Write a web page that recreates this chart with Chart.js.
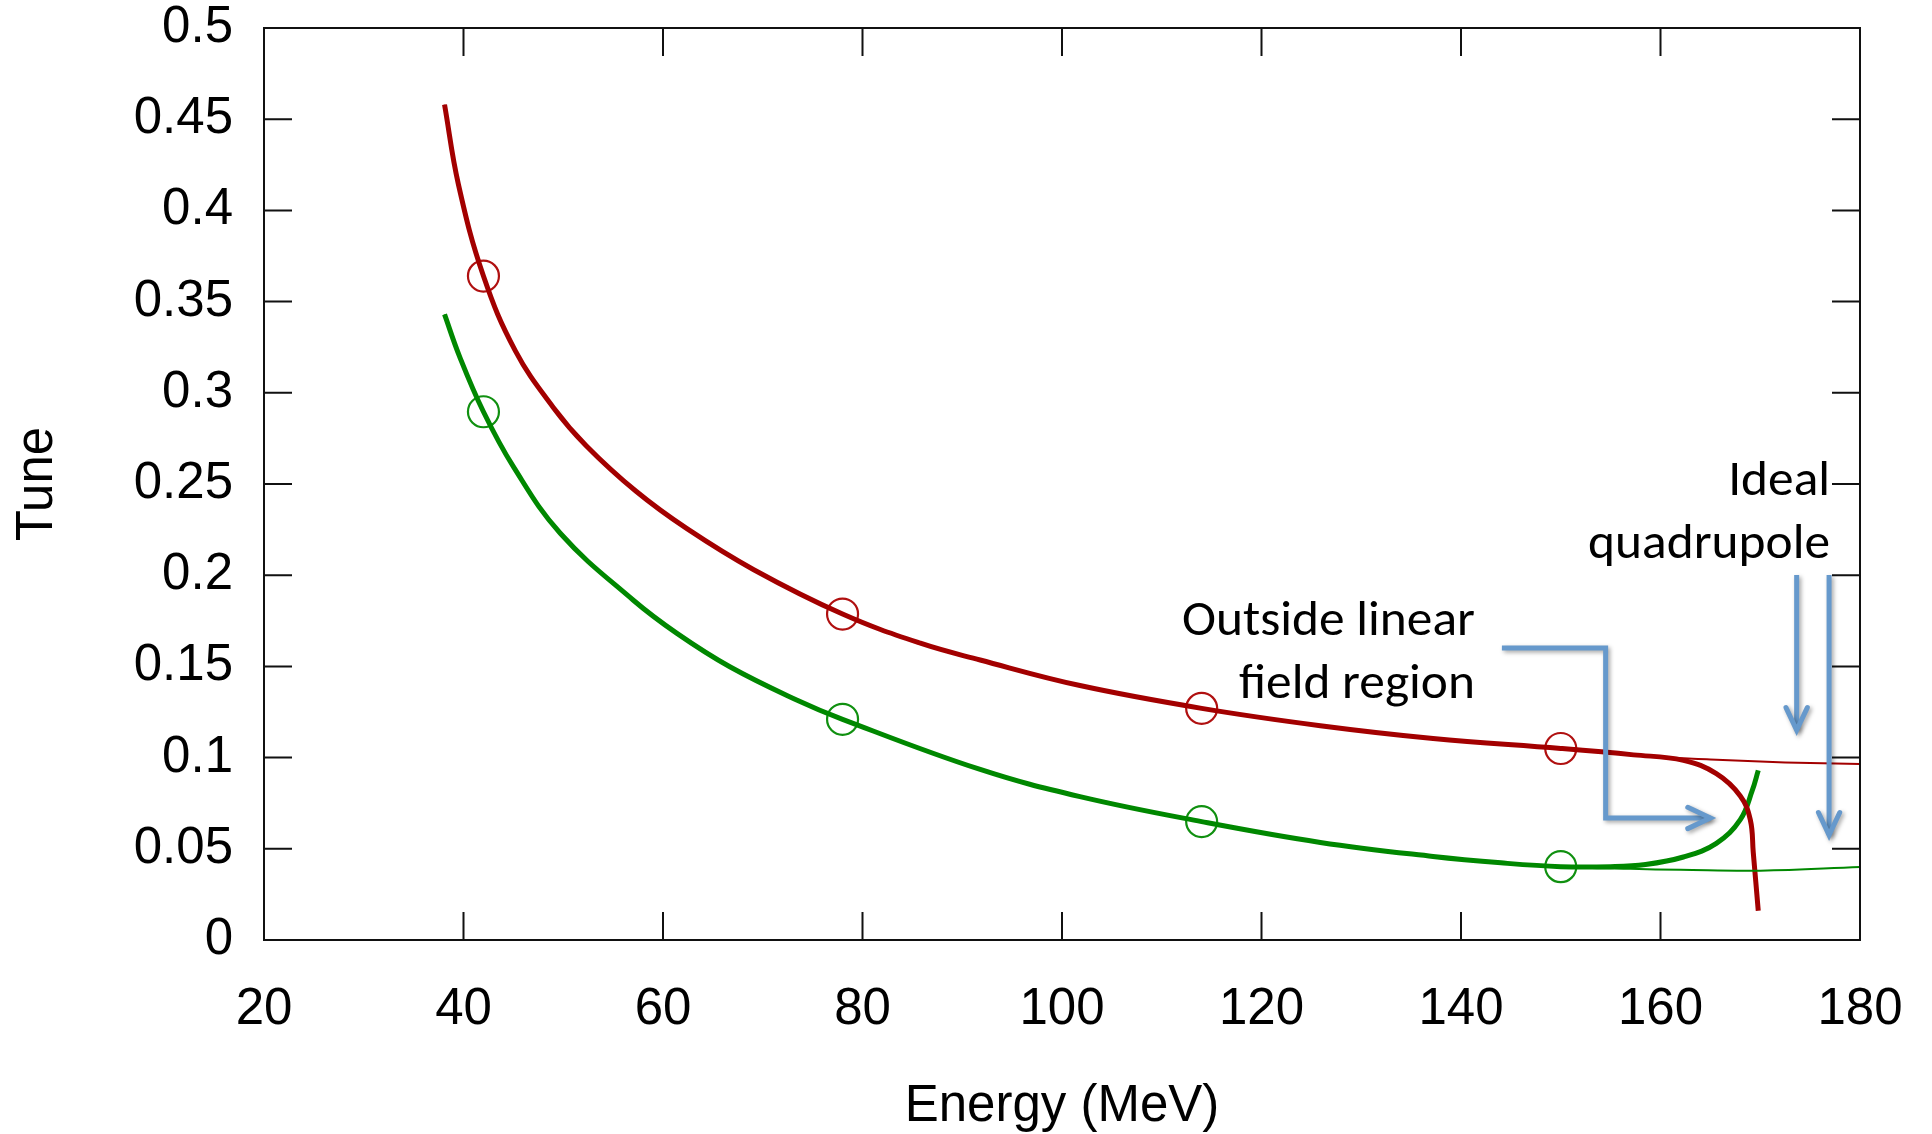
<!DOCTYPE html>
<html><head><meta charset="utf-8">
<script src="https://cdn.jsdelivr.net/npm/chart.js@4.4.0/dist/chart.umd.min.js"></script>
<style>html,body{margin:0;padding:0;background:#fff;overflow:hidden}#wrap{width:1932px;height:1134px}</style>
</head><body><div id="wrap"><canvas id="c" width="1932" height="1134"></canvas></div>
<script>
// ---- tick values / labels ----
const xTicks = [20, 40, 60, 80, 100, 120, 140, 160, 180];
const xTickLabels = ['20','40','60','80','100','120','140','160','180'];
const yTicks = [0, 0.05, 0.1, 0.15, 0.2, 0.25, 0.3, 0.35, 0.4, 0.45, 0.5];
const yTickLabels = ['0','0.05','0.1','0.15','0.2','0.25','0.3','0.35','0.4','0.45','0.5'];

// ---- horizontal tune, full field (thick red) ----
const redE    = [38.1, 39.5, 42.0, 45.2, 49.0, 52.3, 57.3, 62.4, 69.1, 78.0, 85.8, 91.8, 101.8, 114.0, 125.9, 137.2, 150.0, 157.3, 162.3, 165.6, 168.0, 169.0, 169.3, 169.8];
const redTune = [0.458, 0.414, 0.364, 0.323, 0.292, 0.271, 0.246, 0.2255, 0.203, 0.1787, 0.1627, 0.1535, 0.1395, 0.127, 0.1175, 0.1105, 0.105, 0.1015, 0.0985, 0.0912, 0.079, 0.066, 0.048, 0.016];
// ---- horizontal tune, ideal quadrupole (thin red) ----
const redIdealE    = [38.1, 39.5, 42.0, 45.2, 49.0, 52.3, 57.3, 62.4, 69.1, 78.0, 85.8, 91.8, 101.8, 114.0, 125.9, 137.2, 150.0, 160.0, 165.0, 170.0, 175.0, 180.0];
const redIdealTune = [0.458, 0.414, 0.364, 0.323, 0.292, 0.271, 0.246, 0.2255, 0.203, 0.1787, 0.1627, 0.1535, 0.1395, 0.127, 0.1175, 0.1105, 0.105, 0.1003, 0.099, 0.0978, 0.097, 0.0965];
// ---- vertical tune, full field (thick green) ----
const greenE    = [38.1, 39.6, 42.0, 45.0, 49.7, 57.0, 61.4, 66.7, 73.4, 78.0, 91.8, 101.8, 114.0, 125.9, 137.2, 144.0, 150.0, 155.0, 158.5, 162.3, 165.6, 168.0, 169.2, 169.8];
const greenTune = [0.343, 0.320, 0.2896, 0.2595, 0.223, 0.1864, 0.1681, 0.1498, 0.1316, 0.121, 0.0935, 0.0786, 0.0649, 0.0535, 0.0458, 0.0423, 0.0402, 0.0402, 0.0414, 0.0455, 0.053, 0.066, 0.082, 0.093];
// ---- vertical tune, ideal quadrupole (thin green) ----
const greenIdealE    = [38.1, 39.6, 42.0, 45.0, 49.7, 57.0, 61.4, 66.7, 73.4, 78.0, 91.8, 101.8, 114.0, 125.9, 137.2, 144.0, 150.0, 157.0, 162.0, 170.0, 180.0];
const greenIdealTune = [0.343, 0.320, 0.2896, 0.2595, 0.223, 0.1864, 0.1681, 0.1498, 0.1316, 0.121, 0.0935, 0.0786, 0.0649, 0.0535, 0.0458, 0.0423, 0.0402, 0.039, 0.0385, 0.038, 0.040];
// ---- tracked points (circles) ----
const markE = [42, 78, 114, 150];
const markRed = [0.364, 0.1787, 0.127, 0.105];
const markGreen = [0.2896, 0.121, 0.0649, 0.0402];

const RED = '#a30000', GREEN = '#008800', BLUE = '#6699cc';
const pts = (xs, ys) => xs.map((x, i) => ({x, y: ys[i]}));

const frame = {
  id: 'frame',
  afterDatasetsDraw(chart) {
    const {ctx, chartArea: a, scales: {x, y}} = chart;
    const TL = 28;
    ctx.save();
    ctx.strokeStyle = '#111'; ctx.lineWidth = 2;
    ctx.beginPath();
    xTicks.forEach(v => { const p = x.getPixelForValue(v);
      ctx.moveTo(p, a.bottom); ctx.lineTo(p, a.bottom - TL);
      ctx.moveTo(p, a.top); ctx.lineTo(p, a.top + TL); });
    yTicks.forEach(v => { const p = y.getPixelForValue(v);
      ctx.moveTo(a.left, p); ctx.lineTo(a.left + TL, p);
      ctx.moveTo(a.right, p); ctx.lineTo(a.right - TL, p); });
    ctx.stroke();
    ctx.strokeRect(a.left, a.top, a.right - a.left, a.bottom - a.top);
    ctx.restore();
  },
  afterDraw(chart) {
    const {ctx, scales: {x, y}} = chart;
    const X = v => x.getPixelForValue(v), Y = v => y.getPixelForValue(v);
    ctx.save();
    // text (Calibri-like: Lato squeezed horizontally)
    const fam = 'Carlito, Lato, "Open Sans", sans-serif';
    const FS = 50;
    ctx.font = FS + 'px ' + fam;
    const sx = 293 / ctx.measureText('Outside linear').width;
    ctx.fillStyle = '#000'; ctx.textAlign = 'right'; ctx.textBaseline = 'alphabetic';
    const txt = (t, ex, ey) => { ctx.save(); ctx.translate(X(ex), Y(ey)); ctx.scale(sx, 1); ctx.fillText(t, 0, 0); ctx.restore(); };
    txt('Outside linear', 141.4, 0.1672);
    txt('field region', 141.4, 0.1327);
    txt('Ideal', 177.0, 0.244);
    txt('quadrupole', 177.0, 0.2094);
    // arrows
    ctx.strokeStyle = BLUE; ctx.lineWidth = 5; ctx.lineJoin = 'miter'; ctx.lineCap = 'butt';
    ctx.shadowColor = 'rgba(0,0,0,0.35)'; ctx.shadowBlur = 4; ctx.shadowOffsetX = 2; ctx.shadowOffsetY = 2;
    const arrow = (path) => {
      const P = path.map(([a, b]) => [X(a), Y(b)]);
      ctx.beginPath(); ctx.moveTo(P[0][0], P[0][1]);
      for (let i = 1; i < P.length; i++) ctx.lineTo(P[i][0], P[i][1]);
      ctx.stroke();
      const [x1, y1] = P[P.length - 2], [x2, y2] = P[P.length - 1];
      const ang = Math.atan2(y2 - y1, x2 - x1), L = 25, h = 0.44;
      ctx.lineCap = 'round';
      ctx.beginPath();
      ctx.moveTo(x2 - L * Math.cos(ang - h), y2 - L * Math.sin(ang - h));
      ctx.lineTo(x2, y2);
      ctx.lineTo(x2 - L * Math.cos(ang + h), y2 - L * Math.sin(ang + h));
      ctx.stroke();
      ctx.lineCap = 'butt';
    };
    arrow([[144.1, 0.1601], [154.5, 0.1601], [154.5, 0.0669], [165.0, 0.0669]]);
    arrow([[173.65, 0.2001], [173.65, 0.1150]]);
    arrow([[176.9, 0.2001], [176.9, 0.0575]]);
    ctx.restore();
  }
};

const tickFont = {family: '"Liberation Sans", Arial, sans-serif', size: 51, lineHeight: 1.0};
new Chart(document.getElementById('c'), {
  type: 'scatter',
  data: {
    datasets: [
      {data: pts(redIdealE, redIdealTune), showLine: true, borderColor: RED, borderWidth: 2, pointRadius: 0, tension: 0.4},
      {data: pts(greenIdealE, greenIdealTune), showLine: true, borderColor: GREEN, borderWidth: 2, pointRadius: 0, tension: 0.4},
      {data: pts(redE, redTune), showLine: true, borderColor: RED, borderWidth: 5, pointRadius: 0, tension: 0.4},
      {data: pts(greenE, greenTune), showLine: true, borderColor: GREEN, borderWidth: 5, pointRadius: 0, tension: 0.4},
      {data: pts(markE, markRed), showLine: false, pointRadius: 15.5, pointBorderWidth: 2.2, pointBorderColor: '#b01010', pointBackgroundColor: 'rgba(0,0,0,0)'},
      {data: pts(markE, markGreen), showLine: false, pointRadius: 15.5, pointBorderWidth: 2.2, pointBorderColor: '#109010', pointBackgroundColor: 'rgba(0,0,0,0)'}
    ]
  },
  options: {
    responsive: false, animation: false, devicePixelRatio: 1,
    layout: {autoPadding: false, padding: {left: 0, top: 28, right: 72, bottom: 0}},
    plugins: {legend: {display: false}, tooltip: {enabled: false}},
    scales: {
      x: {
        type: 'linear', min: 20, max: 180,
        afterBuildTicks: s => { s.ticks = xTicks.map(v => ({value: v})); },
        afterFit: s => { s.height = 194; s.paddingLeft = 0; s.paddingRight = 0; },
        grid: {display: false, drawTicks: false}, border: {display: false},
        ticks: {color: '#000', font: tickFont, padding: 44, maxRotation: 0, autoSkip: false, callback: (v, i) => xTickLabels[i]},
        title: {display: true, text: 'Energy (MeV)', color: '#000', font: {family: '"Liberation Sans", Arial, sans-serif', size: 51, lineHeight: 1.0}, padding: {top: 0, bottom: 2}}
      },
      y: {
        type: 'linear', min: 0, max: 0.5,
        afterBuildTicks: s => { s.ticks = yTicks.map(v => ({value: v})); },
        afterFit: s => { s.width = 264; s.paddingTop = 0; s.paddingBottom = 0; },
        grid: {display: false, drawTicks: false}, border: {display: false},
        ticks: {color: '#000', font: tickFont, padding: 31, autoSkip: false, callback: (v, i) => yTickLabels[i]},
        title: {display: true, text: 'Tune', color: '#000', font: {family: '"Liberation Sans", Arial, sans-serif', size: 51, lineHeight: 1.2}, padding: {top: 7, bottom: 0}}
      }
    }
  },
  plugins: [frame]
});
</script></body></html>
